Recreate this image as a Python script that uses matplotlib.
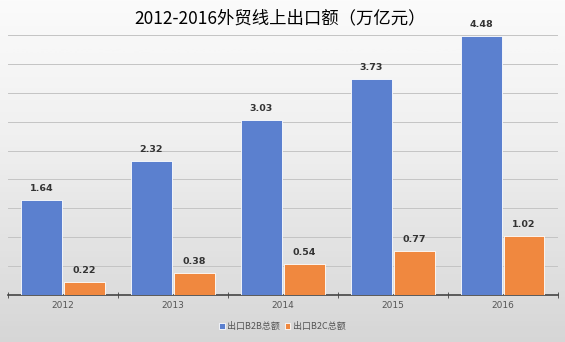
import numpy as np
import matplotlib.pyplot as plt

plt.rcParams['font.family'] = ['Noto Sans CJK SC', 'DejaVu Sans']

years = ['2012', '2013', '2014', '2015', '2016']
b2b = [1.64, 2.32, 3.03, 3.73, 4.48]
b2c = [0.22, 0.38, 0.54, 0.77, 1.02]

fig = plt.figure(figsize=(5.65, 3.42), dpi=100)

# gradient background
bg = fig.add_axes([0, 0, 1, 1], zorder=-10)
grad = np.linspace(0, 1, 256).reshape(-1, 1)
bg.imshow(grad, aspect='auto', cmap=plt.get_cmap('Greys'), vmin=-0.15, vmax=4.2,
          extent=[0, 1, 0, 1], origin='upper')
bg.axis('off')

ax = fig.add_axes([0.014, 0.137, 0.973, 0.761])
ax.patch.set_alpha(0)
x = np.arange(len(years))
w = 0.37
ax.bar(x - w / 2 - 0.01, b2b, w, color='#5b80cf', edgecolor='white', linewidth=0.6,
       label='出口B2B总额', zorder=3)
ax.bar(x + w / 2 + 0.01, b2c, w, color='#f0883f', edgecolor='white', linewidth=0.6,
       label='出口B2C总额', zorder=3)
for i in range(len(years)):
    ax.text(x[i] - w / 2 - 0.01, b2b[i] + 0.12, '%.2f' % b2b[i], ha='center',
            va='bottom', fontsize=6.8, fontweight='bold', color='#333333', family='DejaVu Sans')
    ax.text(x[i] + w / 2 + 0.01, b2c[i] + 0.12, '%.2f' % b2c[i], ha='center',
            va='bottom', fontsize=6.8, fontweight='bold', color='#333333', family='DejaVu Sans')

ax.set_xlim(-0.5, 4.5)
ax.set_ylim(0, 4.5)
ax.set_yticks(np.arange(0, 4.51, 0.5))
ax.yaxis.grid(True, color='#c4c4c4', linewidth=0.7, zorder=0)
ax.tick_params(axis='y', left=False, labelleft=False)
ax.set_xticks(x)
ax.set_xticklabels(years, fontsize=6.5, color='#555555', family='DejaVu Sans')
ax.set_xticks(np.arange(-0.5, 4.6, 1), minor=True)
ax.tick_params(axis='x', which='major', length=0, pad=4)
ax.tick_params(axis='x', which='minor', length=4, color='#444444', direction='inout')
for s in ['top', 'right', 'left']:
    ax.spines[s].set_visible(False)
ax.spines['bottom'].set_color('#444444')
ax.spines['bottom'].set_linewidth(1.2)

fig.text(0.495, 0.945, '2012-2016外贸线上出口额（万亿元）', ha='center', va='center', fontsize=12.5)
fig.legend(loc='center', bbox_to_anchor=(0.5, 0.045), ncol=2, frameon=False,
           fontsize=6.5, handlelength=0.6, handleheight=0.6, handletextpad=0.3,
           columnspacing=0.5, labelcolor='#555555')

fig.savefig('out.png', dpi=100)
